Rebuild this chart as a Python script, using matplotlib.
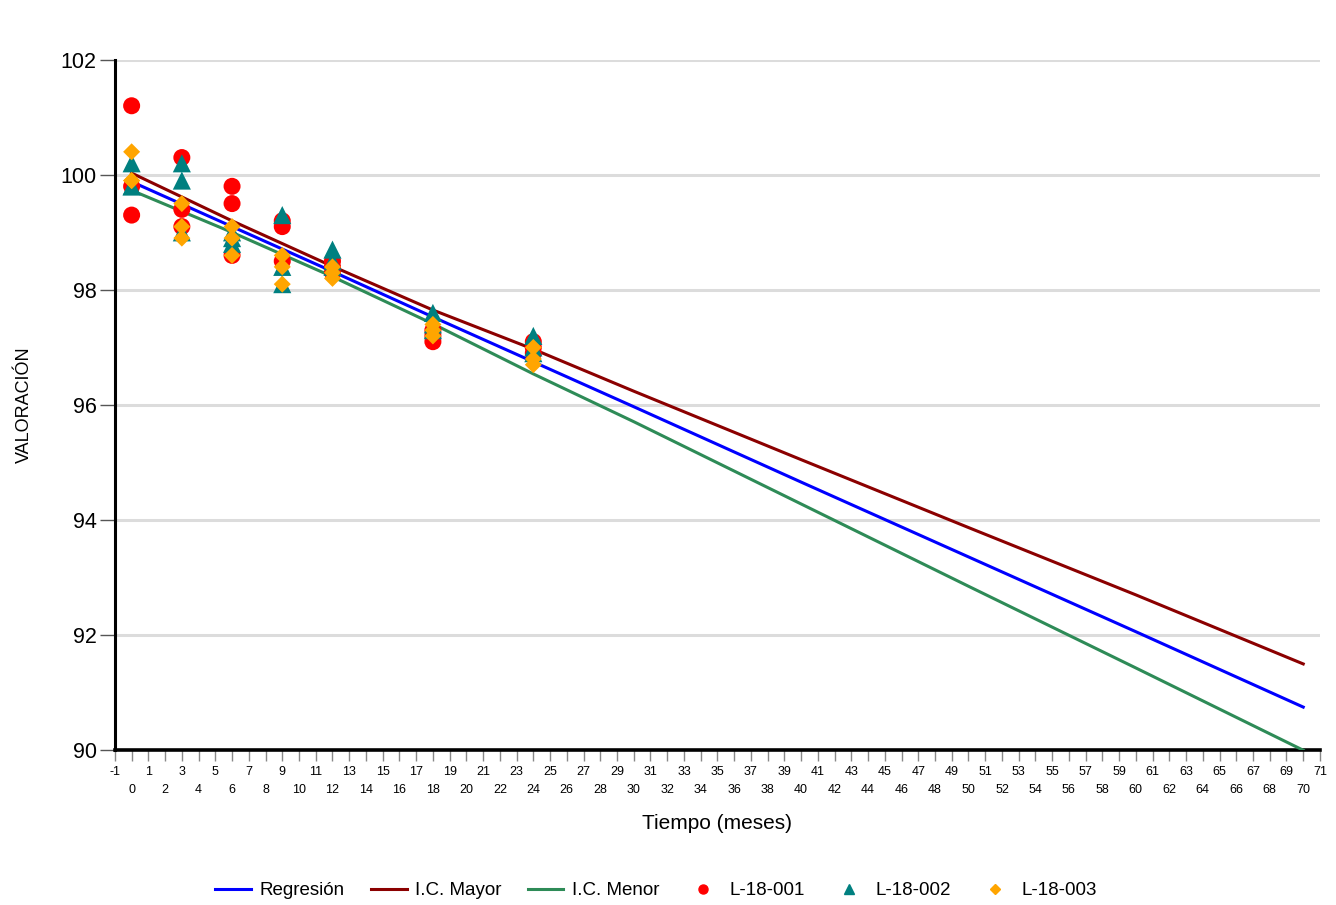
import matplotlib
matplotlib.use("Agg")
import matplotlib.pyplot as plt
from matplotlib.lines import Line2D

plt.rcParams['font.family'] = ['Liberation Sans', 'DejaVu Sans']

# Sampling times (months)
times = [0, 3, 6, 9, 12, 18, 24]

# Measured values, three replicates per lot per time
lot1 = [[101.2, 99.8, 99.3], [100.3, 99.4, 99.1], [99.8, 99.5, 98.6],
        [99.2, 99.1, 98.5], [98.5, 98.4, 98.3], [97.3, 97.2, 97.1],
        [97.1, 97.0, 96.9]]
lot2 = [[100.2, 99.8, 99.8], [100.2, 99.9, 99.0], [99.0, 98.9, 98.8],
        [99.3, 98.4, 98.1], [98.7, 98.5, 98.4], [97.6, 97.4, 97.3],
        [97.2, 97.0, 96.9]]
lot3 = [[100.4, 99.9, 99.9], [99.5, 99.1, 98.9], [99.1, 98.9, 98.6],
        [98.6, 98.4, 98.1], [98.4, 98.3, 98.2], [97.4, 97.3, 97.2],
        [97.0, 96.8, 96.7]]

# Regression line and confidence limits
line_x = [0, 6, 12, 18, 24, 30, 40, 50, 60, 70]
regresion = [99.88, 99.10, 98.32, 97.53, 96.75, 95.97, 94.66, 93.36, 92.06, 90.75]
ic_mayor = [100.03, 99.20, 98.41, 97.65, 96.97, 96.24, 95.05, 93.87, 92.70, 91.50]
ic_menor = [99.73, 99.00, 98.23, 97.41, 96.54, 95.71, 94.28, 92.85, 91.43, 90.00]

x_ticks = list(range(-1, 72))
y_ticks = [90, 92, 94, 96, 98, 100, 102]

fig = plt.figure(figsize=(13.36, 9.05), dpi=100)
ax = fig.add_axes([0.086, 0.171, 0.902, 0.763])

ax.set_xlim(-1, 71)
ax.set_ylim(90, 102)

ax.set_yticks(y_ticks)
ax.set_yticklabels([str(v) for v in y_ticks], fontsize=15.5)
ax.yaxis.grid(True, color='#dcdcdc', linewidth=2.2, zorder=0)
ax.set_axisbelow(True)

ax.set_xticks(x_ticks)
ax.set_xticklabels([str(v) if v % 2 else '\n' + str(v) for v in x_ticks],
                   fontsize=9, linespacing=1.75)
ax.tick_params(axis='x', length=8, width=1, color='#888888', pad=3)
ax.tick_params(axis='y', length=11, width=1, color='#555555', pad=2)

for s in ['top', 'right']:
    ax.spines[s].set_visible(False)
ax.spines['left'].set_linewidth(2.2)
ax.spines['bottom'].set_linewidth(2.6)

ax.plot(line_x, regresion, color='#0000ff', lw=2.2, zorder=3, label='Regresión')
ax.plot(line_x, ic_mayor, color='#8b0000', lw=2.2, zorder=3, label='I.C. Mayor')
ax.plot(line_x, ic_menor, color='#2e8b57', lw=2.2, zorder=3, label='I.C. Menor')

def flat(lot):
    xs, ys = [], []
    for t, vals in zip(times, lot):
        for v in vals:
            xs.append(t)
            ys.append(v)
    return xs, ys

x1, y1 = flat(lot1)
x2, y2 = flat(lot2)
x3, y3 = flat(lot3)
ax.scatter(x1, y1, marker='o', s=150, color='#ff0000', edgecolors='none', zorder=4)
ax.scatter(x2, y2, marker='^', s=170, color='#008080', edgecolors='none', zorder=5)
ax.scatter(x3, y3, marker='D', s=75, color='#ffa500', edgecolors='none', zorder=6)

ax.set_ylabel('VALORACIÓN', fontsize=13, labelpad=20)
ax.set_xlabel('Tiempo (meses)', fontsize=15, labelpad=13)

handles = [
    Line2D([], [], color='#0000ff', lw=2.2),
    Line2D([], [], color='#8b0000', lw=2.2),
    Line2D([], [], color='#2e8b57', lw=2.2),
    Line2D([], [], color='#ff0000', marker='o', ls='none', markersize=6.5),
    Line2D([], [], color='#008080', marker='^', ls='none', markersize=6.5),
    Line2D([], [], color='#ffa500', marker='D', ls='none', markersize=5),
]
labels = ['Regresión', 'I.C. Mayor', 'I.C. Menor', 'L-18-001', 'L-18-002', 'L-18-003']
fig.legend(handles, labels, loc='center', bbox_to_anchor=(0.491, 0.016), ncol=6,
           frameon=False, fontsize=13.5, handlelength=1.9, handletextpad=0.45,
           columnspacing=1.4)

fig.savefig('out.png', dpi=100)
